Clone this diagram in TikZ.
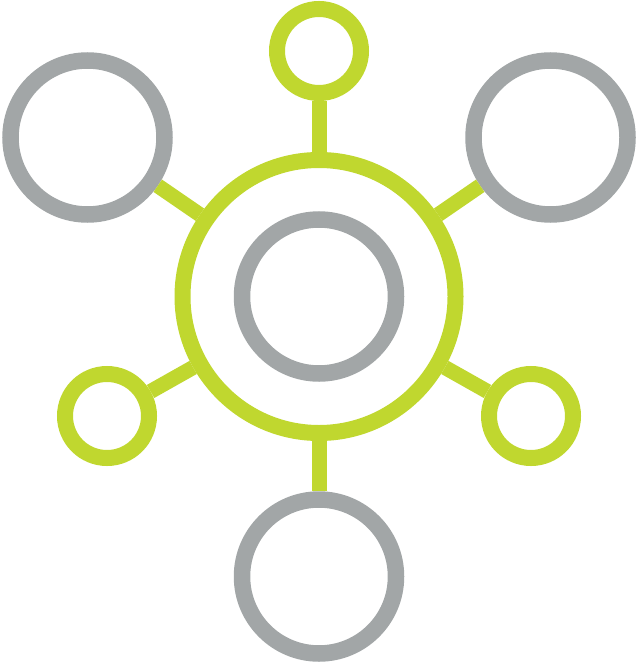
\documentclass[tikz,border=0pt]{standalone}
\definecolor{hubgreen}{HTML}{C0D72F}
\definecolor{ringgray}{HTML}{A2A6A7}
\begin{document}
\begin{tikzpicture}[x=1pt, y=-1pt]
\tikzstyle{big}=[circle, draw=ringgray, line width=16.5pt, minimum size=154pt, inner sep=0pt]
\tikzstyle{small}=[circle, draw=hubgreen, line width=16pt, minimum size=84pt, inner sep=0pt]
\tikzstyle{link}=[draw=hubgreen, line width=15pt]
\useasboundingbox (0,0) rectangle (638,663);
    \node [circle, draw=hubgreen, line width=16pt, minimum size=273pt, inner sep=0pt] (hub) at (319,296.5) {};
    \node [big] (core) at (319,296.5) {};
    \node [small] (top) at (319,51) {};
    \node [big] (tl) at (87.5,137.5) {};
    \node [big] (tr) at (550.5,137.5) {};
    \node [small] (l) at (107,416) {};
    \node [small] (r) at (531,416) {};
    \node [big] (bot) at (319,576.5) {};
    \draw [link] (hub) -- (top);
    \draw [link] (hub) -- (tl);
    \draw [link] (hub) -- (tr);
    \draw [link] (hub) -- (l);
    \draw [link] (hub) -- (r);
    \draw [link] (hub) -- (bot);
\end{tikzpicture}
\end{document}
